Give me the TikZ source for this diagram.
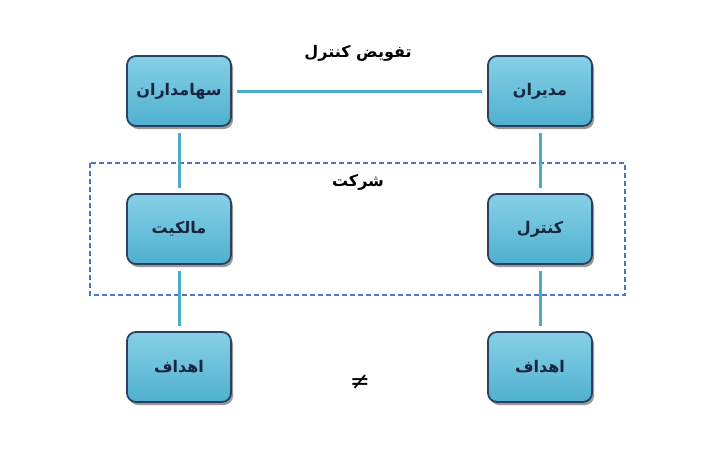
\documentclass[tikz,border=0pt]{standalone}
\usepackage{fontspec}
\TeXXeTstate=1
\newfontfamily\arabicfont[Script=Arabic]{DejaVu Sans}
\newfontfamily\symfont{DejaVu Sans}
\usetikzlibrary{shadows}
\definecolor{boxfillA}{HTML}{86D0E6}
\definecolor{boxfillB}{HTML}{4FB0CF}
\definecolor{boxborder}{HTML}{2B3F5E}
\definecolor{linkcol}{HTML}{4BACC6}
\definecolor{dashcol}{HTML}{4A76C0}
\definecolor{txtcol}{HTML}{1A2540}
\tikzset{
  boxnode/.style={draw=boxborder, line width=1.8pt, rounded corners=9pt,
    top color=boxfillA, bottom color=boxfillB,
    minimum width=104pt, minimum height=70pt, inner sep=0pt,
    font=\arabicfont\bfseries\fontsize{16}{19}\selectfont, text=txtcol,
    drop shadow={shadow xshift=2pt, shadow yshift=-3pt, opacity=0.4, fill=black}},
  link/.style={draw=linkcol, line width=3pt},
  lbl/.style={font=\arabicfont\bfseries\fontsize{16}{19}\selectfont, text=black}
}
\begin{document}
\begin{tikzpicture}[x=1pt,y=-1pt]
\useasboundingbox (0,0) rectangle (720,450);
\node[boxnode] (sh) at (179,91) {\beginR سهامداران\endR};
\node[boxnode] (mo) at (540,91) {\beginR مدیران\endR};
\node[boxnode] (ma) at (179,229) {\beginR مالکیت\endR};
\node[boxnode] (ko) at (540,229) {\beginR کنترل\endR};
\node[boxnode] (ha) at (179,367) {\beginR اهداف\endR};
\node[boxnode] (hb) at (540,367) {\beginR اهداف\endR};
\draw[dashcol, line width=1.4pt, dash pattern=on 5pt off 3pt] (90,163) rectangle (625,295);
\node[lbl] (tk) at (358,53) {\beginR تفویض کنترل\endR};
\node[lbl] (sk) at (358,182) {\beginR شرکت\endR};
\node[font=\symfont\fontsize{24}{26}\selectfont, text=black] (ne) at (360,382) {≠};
\draw[link, shorten <=5pt, shorten >=5pt] (sh.east) -- (mo.west);
\draw[link, shorten <=6pt, shorten >=5pt] (sh.south) -- (ma.north);
\draw[link, shorten <=6pt, shorten >=5pt] (ma.south) -- (ha.north);
\draw[link, shorten <=6pt, shorten >=5pt] (mo.south) -- (ko.north);
\draw[link, shorten <=6pt, shorten >=5pt] (ko.south) -- (hb.north);
\end{tikzpicture}
\end{document}
